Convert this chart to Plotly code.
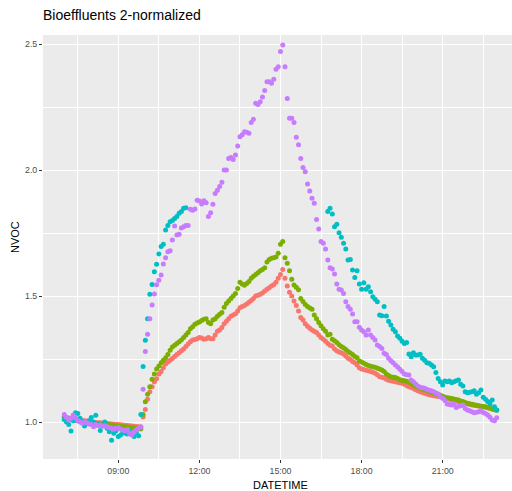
import pandas as pd
import plotly.graph_objects as go

# time grid: 5-minute readings from 07:00 to 23:00
times = pd.date_range("2020-01-01 07:00", periods=193, freq="5min")

series_names = ["1", "2", "3", "4"]
series_colors = ["#F8766D", "#7CAE00", "#00BFC4", "#C77CFF"]

red_vals = (
    [1.020,1.018,1.016,1.015,1.013,1.012,1.010,1.008,1.006,1.005,1.004,1.002] +
    [1.000,0.999,0.998,0.997,0.997,0.996,0.995,0.994,0.993,0.992,0.991,0.990] +
    [0.990,0.989,0.988,0.987,0.986,0.985,0.984,0.983,0.982,0.981,0.980,1.020] +
    [1.050,1.090,1.120,1.140,1.160,1.172,1.190,1.200,1.215,1.230,1.238,1.245] +
    [1.252,1.260,1.268,1.275,1.283,1.290,1.300,1.310,1.318,1.325,1.327,1.330] +
    [1.335,1.333,1.328,1.330,1.335,1.330,1.330,1.345,1.360,1.365,1.375,1.390] +
    [1.400,1.410,1.420,1.425,1.430,1.440,1.453,1.458,1.462,1.468,1.475,1.482] +
    [1.490,1.500,1.503,1.507,1.512,1.520,1.527,1.533,1.540,1.545,1.555,1.570] +
    [1.585,1.605,1.570,1.540,1.515,1.500,1.480,1.462,1.440,1.415,1.405,1.390] +
    [1.380,1.372,1.365,1.360,1.355,1.345,1.335,1.328,1.320,1.312,1.305,1.302] +
    [1.290,1.283,1.278,1.275,1.270,1.262,1.253,1.248,1.240,1.235,1.226,1.215] +
    [1.210,1.208,1.205,1.203,1.200,1.197,1.193,1.188,1.180,1.178,1.175,1.170] +
    [1.166,1.164,1.162,1.160,1.158,1.156,1.154,1.150,1.145,1.140,1.137,1.133] +
    [1.128,1.124,1.120,1.117,1.114,1.111,1.108,1.106,1.104,1.103,1.101,1.100] +
    [1.097,1.094,1.092,1.090,1.087,1.085,1.083,1.080,1.078,1.076,1.074,1.072] +
    [1.069,1.067,1.066,1.065,1.064,1.063,1.061,1.059,1.057,1.055,1.052,1.050] +
    [1.048]
)

green_vals = (
    [1.020,1.015,1.012,1.010,1.008,1.006,1.005,1.003,1.002,1.000,0.999,0.998] +
    [0.997,0.996,0.995,0.994,0.993,0.992,0.990,0.990,0.989,0.988,0.986,0.985] +
    [0.984,0.983,0.982,0.981,0.980,0.979,0.978,0.977,0.976,0.975,0.972,1.030] +
    [1.080,1.110,1.140,1.170,1.190,1.210,1.222,1.235,1.245,1.255,1.268,1.285] +
    [1.298,1.305,1.312,1.318,1.325,1.335,1.345,1.355,1.370,1.378,1.388,1.393] +
    [1.397,1.403,1.408,1.410,1.395,1.390,1.405,1.410,1.420,1.428,1.435,1.455] +
    [1.470,1.480,1.490,1.500,1.510,1.530,1.555,1.548,1.543,1.550,1.558,1.570] +
    [1.578,1.585,1.592,1.600,1.605,1.612,1.635,1.645,1.650,1.652,1.655,1.670] +
    [1.705,1.716,1.652,1.630,1.600,1.566,1.544,1.535,1.525,1.490,1.478,1.466] +
    [1.458,1.452,1.447,1.425,1.410,1.395,1.382,1.370,1.360,1.345,1.348,1.328] +
    [1.322,1.315,1.307,1.300,1.295,1.288,1.280,1.274,1.268,1.260,1.255,1.242] +
    [1.238,1.233,1.228,1.224,1.221,1.219,1.217,1.213,1.210,1.206,1.200,1.190] +
    [1.185,1.180,1.178,1.177,1.173,1.168,1.166,1.164,1.162,1.158,1.154,1.146] +
    [1.142,1.138,1.134,1.131,1.128,1.126,1.121,1.118,1.116,1.112,1.109,1.106] +
    [1.102,1.098,1.096,1.095,1.093,1.091,1.089,1.087,1.083,1.081,1.077,1.074] +
    [1.072,1.070,1.068,1.066,1.065,1.063,1.062,1.061,1.058,1.055,1.052,1.049] +
    [1.047]
)

cyan_vals = (
    [1.010,1.000,0.990,0.964,1.005,1.037,1.034,1.015,1.000,0.984,0.995,1.005] +
    [1.018,1.000,1.027,0.990,0.966,0.985,1.000,0.975,0.961,0.928,0.955,0.965] +
    [0.942,0.948,0.960,0.955,0.952,0.965,0.950,0.942,0.958,0.945,1.030,1.220] +
    [1.324,1.410,1.507,1.546,1.596,1.626,1.667,1.696,1.705,1.762,1.780,1.795] +
    [1.800,1.808,1.815,1.828,1.835,1.848,1.850,None,None,None,None,None] +
    [None] * 48 +
    [None,None,None,None,None,None,None,None,None,1.835,1.848,1.825] +
    [1.775,1.785,1.751,1.733,1.709,1.687,1.643,1.645,1.603,1.573,1.600,1.548] +
    [1.527,1.553,1.527,1.537,1.517,1.497,1.487,1.477,1.425,1.422,1.458,1.421] +
    [1.400,1.385,1.368,1.358,1.341,1.332,1.320,1.312,1.315,1.270,1.259,1.275] +
    [1.266,1.266,1.269,1.253,1.245,1.235,1.233,1.226,1.219,1.196,1.173,1.160] +
    [1.147,1.163,1.160,1.163,1.156,1.160,1.164,1.167,1.150,1.143,1.120,1.116] +
    [1.118,1.120,1.124,1.110,1.116,1.127,1.098,1.090,1.081,1.071,1.087,1.061] +
    [1.048]
)

purple_vals = (
    [1.030,1.019,1.008,1.015,1.028,1.017,1.005,1.000,0.995,1.000,0.997,0.992] +
    [0.990,0.981,0.990,0.985,0.988,0.983,0.985,0.981,0.978,0.975,0.971,0.975] +
    [0.977,0.972,0.968,0.965,0.970,0.955,0.948,0.960,0.968,0.975,0.981,1.130] +
    [1.280,1.348,1.410,1.464,1.508,1.545,1.563,1.583,1.627,1.652,1.676,1.680] +
    [1.722,1.778,1.742,1.745,1.770,1.775,1.780,1.780,1.844,1.840,1.845,1.880] +
    [1.877,1.865,1.878,1.870,1.815,1.830,1.864,1.907,1.920,1.935,1.951,2.000] +
    [2.000,2.046,2.050,2.042,2.060,2.095,2.132,2.140,2.152,2.150,2.146,2.188] +
    [2.201,2.265,2.260,2.271,2.290,2.315,2.350,2.350,2.344,2.360,2.400,2.410] +
    [2.470,2.496,2.410,2.284,2.205,2.205,2.188,2.130,2.100,2.046,2.010,1.993] +
    [1.944,1.917,1.888,1.868,1.804,1.766,1.716,1.709,1.687,1.643,1.612,1.607] +
    [1.587,1.548,1.527,1.524,1.510,1.477,1.458,1.447,1.429,1.398,1.398,1.376] +
    [1.365,1.358,1.345,1.365,1.345,1.335,1.325,1.306,1.300,1.292,1.273,1.268] +
    [1.253,1.243,1.235,1.226,1.218,1.209,1.200,1.190,1.188,1.187,1.167,1.160] +
    [1.151,1.143,1.138,1.136,1.134,1.130,1.126,1.124,1.120,1.115,1.111,1.100] +
    [1.094,1.085,1.071,1.069,1.067,1.071,1.058,1.063,1.065,1.067,1.054,1.048] +
    [1.045,1.041,1.037,1.039,1.041,1.045,1.038,1.034,1.028,1.019,1.008,1.005] +
    [1.017]
)

y_tickvals = [1.0, 1.5, 2.0, 2.5]
y_ticktext = ["1.0", "1.5", "2.0", "2.5"]
x_tickvals = ["2020-01-01 09:00", "2020-01-01 12:00", "2020-01-01 15:00",
              "2020-01-01 18:00", "2020-01-01 21:00"]
x_ticktext = ["09:00", "12:00", "15:00", "18:00", "21:00"]

all_vals = [red_vals, green_vals, cyan_vals, purple_vals]
for v in all_vals:
    assert len(v) == len(times), len(v)

FONT = "Liberation Sans, Arial, sans-serif"

fig = go.Figure()
for name, col, vals in zip(series_names, series_colors, all_vals):
    fig.add_trace(go.Scatter(
        x=times, y=vals, mode="markers", name=name,
        marker=dict(color=col, size=5, line=dict(width=0)),
        showlegend=False,
    ))

fig.update_layout(
    width=512, height=491,
    margin=dict(l=43, r=0, t=35, b=32, autoexpand=False),
    paper_bgcolor="white",
    plot_bgcolor="#EBEBEB",
    font=dict(family=FONT, color="#4D4D4D"),
    title=dict(text="Bioeffluents 2-normalized", x=0, xref="paper", xanchor="left",
               y=1 - 15.5 / 491, yref="container", yanchor="middle",
               font=dict(family=FONT, size=14, color="black")),
    xaxis=dict(
        type="date",
        range=["2020-01-01 06:12:50", "2020-01-01 23:33:54"],
        tickvals=x_tickvals, ticktext=x_ticktext,
        ticks="outside", ticklen=3, tickwidth=1, tickcolor="#333333",
        tickfont=dict(size=8.8, color="#4D4D4D", family=FONT),
        showgrid=True, gridcolor="white", gridwidth=1.1,
        minor=dict(tick0="2020-01-01 07:30", dtick=3 * 3600 * 1000, showgrid=True,
                   gridcolor="white", gridwidth=0.55, ticks=""),
        zeroline=False, showline=False,
    ),
    yaxis=dict(
        range=[0.8532, 2.5357],
        tickvals=y_tickvals, ticktext=y_ticktext,
        ticks="outside", ticklen=3, tickwidth=1, tickcolor="#333333",
        tickfont=dict(size=8.8, color="#4D4D4D", family=FONT),
        showgrid=True, gridcolor="white", gridwidth=1.1,
        minor=dict(tick0=0.75, dtick=0.5, showgrid=True,
                   gridcolor="white", gridwidth=0.55, ticks=""),
        zeroline=False, showline=False,
    ),
    annotations=[
        dict(text="DATETIME", xref="paper", yref="paper",
             x=(280.5 - 43) / 469, y=(459 - 484.5) / 424,
             xanchor="center", yanchor="middle", showarrow=False,
             font=dict(family=FONT, size=11, color="black")),
        dict(text="NVOC", xref="paper", yref="paper",
             x=(15 - 43) / 469, y=(459 - 237) / 424, textangle=-90,
             xanchor="center", yanchor="middle", showarrow=False,
             font=dict(family=FONT, size=11, color="black")),
    ],
)

fig.write_html("out.html",
               config={"displayModeBar": False},
               post_script="document.body.style.margin='0';document.body.style.overflow='hidden';")
